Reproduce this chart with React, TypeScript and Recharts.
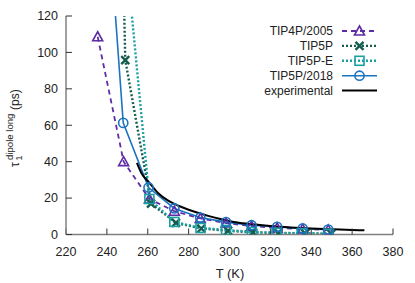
import React from 'react';
import { LineChart, Line, XAxis, YAxis } from 'recharts';

// temperatures (K) and tau_1 dipole long (ps)
const tip4p2005T = [235.5, 248.2, 260.8, 273, 285.7, 298.3, 310.8, 323.3, 335.8, 348.3];
const tip4p2005Tau = [108.6, 40, 19.5, 12.8, 8.8, 6.3, 4.6, 3.6, 3.0, 2.5];

const tip5pT = [236, 249, 261.6, 273.8, 286.2, 299.3, 311.5, 324, 337, 349.8];
const tip5pTau = [740, 95.8, 17, 6.4, 3.3, 2.0, 1.2, 0.8, 0.6, 0.4];

const tip5peT = [248, 260.8, 273, 285.8, 298.3, 310.9, 323, 335.3, 348.3];
const tip5peTau = [170, 19.5, 6.9, 3.6, 2.5, 1.4, 0.9, 0.7, 0.4];

const tip5p2018T = [235.5, 248, 260.4, 273, 285.7, 298.3, 310.8, 323.3, 335.8, 348.3];
const tip5p2018Tau = [255, 61.3, 25.8, 14.3, 9.3, 6.8, 5.1, 4.2, 3.3, 2.7];

const expT = [254.7, 257, 260.4, 265, 270, 275, 280, 285.7, 290, 295, 302, 310, 320, 330, 340, 350, 360, 366];
const expTau = [39.3, 33.5, 28.9, 22.8, 18.6, 15.8, 13.6, 11.5, 10.1, 8.6, 6.9, 5.8, 4.7, 3.9, 3.3, 2.9, 2.5, 2.3];

const xTicks = [220, 240, 260, 280, 300, 320, 340, 360, 380];
const yTicks = [0, 20, 40, 60, 80, 100, 120];

const zip = (ts: number[], vs: number[]) => ts.map((T, i) => ({ T, tau: vs[i] }));

const C_PURPLE = '#5e2ca5';
const C_DKGREEN = '#145c4e';
const C_TEAL = '#1aa0a0';
const C_BLUE = '#1c74c0';
const FONT = '"Liberation Sans", Arial, sans-serif';

const Tri = ({ cx, cy, c }: any) => (
  <path d={`M${cx},${cy - 5} L${cx + 5},${cy + 4} L${cx - 5},${cy + 4} Z`} fill="none" stroke={c} strokeWidth={1.6} />
);
const Cross = ({ cx, cy, c }: any) => (
  <path d={`M${cx - 4},${cy - 4} L${cx + 4},${cy + 4} M${cx - 4},${cy + 4} L${cx + 4},${cy - 4}`} fill="none" stroke={c} strokeWidth={2.4} />
);
const Sq = ({ cx, cy, c }: any) => (
  <rect x={cx - 4.5} y={cy - 4.5} width={9} height={9} fill="none" stroke={c} strokeWidth={1.6} />
);
const Circ = ({ cx, cy, c }: any) => <circle cx={cx} cy={cy} r={4.6} fill="none" stroke={c} strokeWidth={1.6} />;

const dotFn = (Shape: any, c: string) => (p: any) => {
  if (p.cx == null || p.cy == null) return <g key={p.index} />;
  return (
    <g key={p.index}>
      <Shape cx={p.cx} cy={p.cy} c={c} />
    </g>
  );
};

const legendItems = [
  { name: 'TIP4P/2005', c: C_PURPLE, dash: '5 4', w: 1.8, Shape: Tri },
  { name: 'TIP5P', c: C_DKGREEN, dash: '2 2', w: 2.4, Shape: Cross },
  { name: 'TIP5P-E', c: C_TEAL, dash: '2 2', w: 2.4, Shape: Sq },
  { name: 'TIP5P/2018', c: C_BLUE, dash: undefined, w: 1.6, Shape: Circ },
  { name: 'experimental', c: '#000', dash: undefined, w: 2, Shape: null },
];

const inwardTickText = (anchor: 'end' | 'middle') => (p: any) => (
  <text x={p.x} y={p.y} textAnchor={anchor} dy={anchor === 'end' ? '0.35em' : '0.71em'} fontSize={12.5} fill="#222" fontFamily={FONT}>
    {p.payload.value}
  </text>
);

export default function App() {
  return (
    <div style={{ position: 'absolute', left: 0, top: 0, width: 415, height: 283, background: '#fff' }}>
      <LineChart width={415} height={283} margin={{ top: 16, right: 22, bottom: 18.5, left: 26 }}>
        <XAxis
          xAxisId="b"
          type="number"
          dataKey="T"
          domain={[220, 380]}
          ticks={xTicks}
          allowDataOverflow
          height={30}
          tickSize={-6}
          tickMargin={19}
          axisLine={{ stroke: '#808080', strokeWidth: 1.5 }}
          tickLine={{ stroke: '#333' }}
          tick={inwardTickText('middle')}
        />
        <XAxis
          xAxisId="t"
          orientation="top"
          type="number"
          dataKey="T"
          domain={[220, 380]}
          ticks={xTicks}
          height={0}
          tickSize={-6}
          axisLine={{ stroke: '#808080', strokeWidth: 1.5 }}
          tickLine={{ stroke: '#333' }}
          tick={() => <g />}
        />
        <YAxis
          yAxisId="l"
          type="number"
          domain={[0, 120]}
          ticks={yTicks}
          allowDataOverflow
          width={40}
          tickSize={-6}
          tickMargin={14}
          axisLine={{ stroke: '#808080', strokeWidth: 1.5 }}
          tickLine={{ stroke: '#333' }}
          tick={inwardTickText('end')}
        />
        <YAxis
          yAxisId="r"
          orientation="right"
          type="number"
          domain={[0, 120]}
          ticks={yTicks}
          width={0}
          tickSize={-6}
          axisLine={{ stroke: '#808080', strokeWidth: 1.5 }}
          tickLine={{ stroke: '#333' }}
          tick={() => <g />}
        />
        <Line
          xAxisId="b"
          yAxisId="l"
          data={zip(tip4p2005T, tip4p2005Tau)}
          dataKey="tau"
          type="linear"
          stroke={C_PURPLE}
          strokeWidth={1.8}
          strokeDasharray="5 4"
          dot={dotFn(Tri, C_PURPLE)}
          isAnimationActive={false}
        />
        <Line
          xAxisId="b"
          yAxisId="l"
          data={zip(tip5pT, tip5pTau)}
          dataKey="tau"
          type="linear"
          stroke={C_DKGREEN}
          strokeWidth={2.4}
          strokeDasharray="2 2"
          dot={dotFn(Cross, C_DKGREEN)}
          isAnimationActive={false}
        />
        <Line
          xAxisId="b"
          yAxisId="l"
          data={zip(tip5peT, tip5peTau)}
          dataKey="tau"
          type="linear"
          stroke={C_TEAL}
          strokeWidth={2.4}
          strokeDasharray="2 2"
          dot={dotFn(Sq, C_TEAL)}
          isAnimationActive={false}
        />
        <Line
          xAxisId="b"
          yAxisId="l"
          data={zip(tip5p2018T, tip5p2018Tau)}
          dataKey="tau"
          type="linear"
          stroke={C_BLUE}
          strokeWidth={1.6}
          dot={dotFn(Circ, C_BLUE)}
          isAnimationActive={false}
        />
        <Line
          xAxisId="b"
          yAxisId="l"
          data={zip(expT, expTau)}
          dataKey="tau"
          type="monotone"
          stroke="#000"
          strokeWidth={2}
          dot={false}
          isAnimationActive={false}
        />
      </LineChart>
      <svg width={415} height={283} style={{ position: 'absolute', left: 0, top: 0, pointerEvents: 'none' }}>
        <text x={230} y={278} textAnchor="middle" fontSize={13} fill="#222" fontFamily={FONT}>
          T (K)
        </text>
        <text transform="rotate(-90)" fontFamily={FONT} fill="#222">
          <tspan x={-167} y={19} fontSize={12}>τ</tspan>
          <tspan x={-160.5} y={22} fontSize={9}>1</tspan>
          <tspan x={-160} y={13} fontSize={9.6}>dipole long</tspan>
          <tspan x={-110} y={19} fontSize={12}>(ps)</tspan>
        </text>
        {legendItems.map((it, i) => {
          const y = 31 + i * 14.9;
          return (
            <g key={it.name}>
              <text x={333} y={y} dy="0.35em" textAnchor="end" fontSize={12} fill="#222" fontFamily={FONT}>
                {it.name}
              </text>
              <line x1={342} x2={377} y1={y} y2={y} stroke={it.c} strokeWidth={it.w} strokeDasharray={it.dash} />
              {it.Shape ? <it.Shape cx={359.5} cy={y} c={it.c} /> : null}
            </g>
          );
        })}
      </svg>
    </div>
  );
}
